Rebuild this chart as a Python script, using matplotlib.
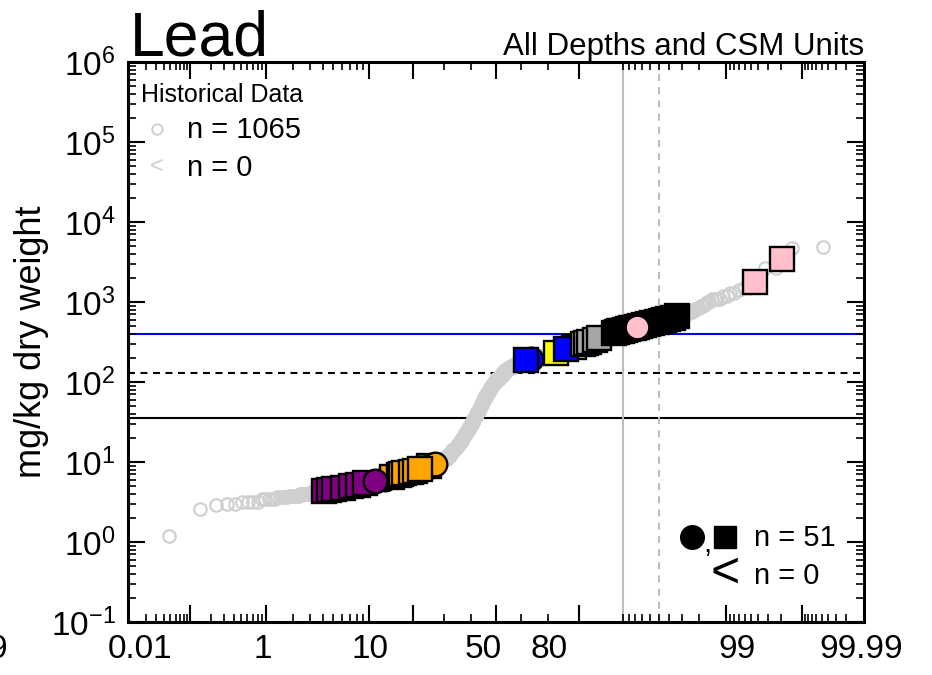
import numpy as np
import matplotlib
matplotlib.use("Agg")
import matplotlib.pyplot as plt
from matplotlib.ticker import FixedLocator, LogLocator, NullFormatter, LogFormatterSciNotation
from statistics import NormalDist

plt.rcParams['font.family'] = ['Liberation Sans', 'DejaVu Sans']
plt.rcParams['mathtext.fontset'] = 'custom'
plt.rcParams['mathtext.rm'] = 'Liberation Sans'
plt.rcParams['mathtext.it'] = 'Liberation Sans:italic'
plt.rcParams['mathtext.bf'] = 'Liberation Sans:bold'
plt.rcParams['lines.scale_dashes'] = False

# ---------------------------------------------------------------------------
# Historical record: reported lead values (mg/kg) and number of samples at each
hist_values = [1.2, 2.6, 2.9, 3.0,
               3.2, 3.4, 3.6, 3.8, 4.0, 4.2, 4.4, 4.6, 4.8, 5.0, 5.2, 5.4, 5.6, 5.8,
               6.0, 6.2, 6.4, 6.6, 6.8, 7.0, 7.2, 7.4, 7.6, 7.8, 8.0, 8.2, 8.4, 8.6,
               8.8, 9.0, 9.2, 9.4, 9.6, 9.8,
               10, 11, 12, 13, 14, 15, 16, 17, 18, 19, 20, 21, 22, 23, 24, 25, 26,
               27, 28, 29, 30,
               32, 34, 36, 38, 40, 42, 44, 46, 48, 50, 52, 54, 56, 58, 60,
               65, 70, 75, 80, 85, 90, 95, 100,
               110, 120, 130, 140, 150, 160, 170, 180, 190, 200, 210, 220, 230, 240,
               250, 260, 270, 280, 290, 300,
               320, 340, 360, 380, 400, 420, 440, 460, 480, 500, 520, 540, 560, 580, 600,
               650, 700, 750, 800, 850, 900, 950, 1000,
               1100, 1200, 1300, 1400, 1500,
               1860, 2630, 2690, 4730, 4900]
hist_counts = [1, 1, 1, 2,
               4, 5, 5, 6, 7, 8, 8, 12, 11, 11, 11, 10, 10, 10,
               11, 11, 10, 10, 10, 9, 9, 9, 11, 11, 10, 11, 9, 8,
               7, 7, 7, 7, 6, 4,
               13, 16, 12, 9, 9, 8, 6, 6, 5, 6, 5, 4, 4, 4, 4, 3, 4,
               3, 3, 3, 3,
               6, 5, 4, 3, 4, 4, 3, 3, 3, 3, 3, 3, 3, 2, 3,
               9, 5, 6, 5, 5, 5, 8, 6,
               17, 11, 11, 12, 16, 15, 14, 25, 28, 28, 27, 26, 22, 14,
               13, 13, 12, 12, 11, 11,
               24, 13, 13, 11, 11, 11, 10, 11, 10, 9, 7, 7, 7, 5, 4,
               11, 4, 3, 2, 2, 2, 1, 2,
               4, 2, 2, 1, 2,
               1, 1, 1, 1, 1]
hist_censored = []          # no non-detects in the historical record

# Current samples (mg/kg) by unit colour and marker shape
green_sq = [8.8]
green_o = [9.0]
orange_o = [6.2, 9.4]
orange_sq = [6.5, 6.9, 7.0, 7.2, 7.6, 7.8, 8.1]
purple_sq = [4.4, 4.5, 4.6, 4.8, 5.0, 5.2, 5.4]
purple_o = [5.8]
yellow_sq = [232, 275]
blue_o = [195]
blue_sq = [188, 255]
gray_sq = [300, 310, 320, 335, 350]
black_sq = [410, 420, 430, 440, 450, 460, 470, 480, 490, 500, 515, 530, 545,
            560, 575, 590, 610, 635, 660]
pink_sq = [1800, 3400]
pink_o = [490]
current_censored = []

# Screening levels (mg/kg) and percentile reference lines
screen_blue = 400
screen_dashed = 128
screen_solid = 35.8
pct_solid = 90
pct_dashed = 95

# Probability-axis ticks and labels
x_major = [0.1, 1, 10, 20, 50, 80, 99, 99.9]
x_minor = ([0.02, 0.03, 0.04, 0.05, 0.06, 0.07, 0.08, 0.09,
            0.2, 0.3, 0.4, 0.5, 0.6, 0.7, 0.8, 0.9,
            2, 3, 4, 5, 6, 7, 8, 9, 30, 40, 60, 70, 90,
            91, 92, 93, 94, 95, 96, 97, 98,
            99.1, 99.2, 99.3, 99.4, 99.5, 99.6, 99.7, 99.8,
            99.91, 99.92, 99.93, 99.94, 99.95, 99.96, 99.97, 99.98])
x_labels = ["0.01", "1", "10", "50", "80", "99", "99.99"]
x_label_px = [140, 263, 370, 483, 549, 737, 861]

# ---------------------------------------------------------------------------
_nd = NormalDist()
_ppf = np.vectorize(_nd.inv_cdf, otypes=[float])
_cdf = np.vectorize(_nd.cdf, otypes=[float])


def prob_forward(pct):
    p = np.asarray(pct, dtype=float) / 100.0
    p = np.where(np.isfinite(p), p, 0.5)
    p = np.clip(p, 1e-12, 1 - 1e-12)
    return _ppf(p)


def prob_inverse(z):
    z = np.asarray(z, dtype=float)
    z = np.where(np.isfinite(z), z, 0.0)
    return 100.0 * _cdf(z)


W, H = 932, 675
fig = plt.figure(figsize=(W / 100, H / 100), dpi=100)
L, R, T, B = 128, 864, 62, 622
ax = fig.add_axes([L / W, 1 - B / H, (R - L) / W, (B - T) / H])
ax.set_xscale('function', functions=(prob_forward, prob_inverse))
ax.set_yscale('log')
ax.set_xlim(0.01, 99.99)
ax.set_ylim(1e-1, 1e6)

# historical data at Hazen plotting positions
hv = np.asarray(hist_values, dtype=float)
hc = np.asarray(hist_counts)
hist_all = np.repeat(hv, hc)
n_hist = hist_all.size
hist_pct = 100.0 * (np.arange(1, n_hist + 1) - 0.5) / n_hist

# position of each current sample within the historical distribution
cum = np.cumsum(hc)
mid_rank = cum - (hc - 1) / 2.0
mid_q = prob_forward(100.0 * (mid_rank - 0.5) / n_hist)


def pct_in_history(vals):
    q = np.interp(np.log10(vals), np.log10(hv), mid_q)
    return prob_inverse(q)


# reference lines
ax.axhline(screen_blue, color='#0000ff', lw=1.5, zorder=1)
ax.axhline(screen_dashed, color='black', lw=1.5, ls=(0, (5, 4)), zorder=1)
ax.axhline(screen_solid, color='black', lw=1.5, zorder=1)
ax.axvline(pct_solid, color='#bebebe', lw=1.5, zorder=1)
ax.axvline(pct_dashed, color='#bebebe', lw=1.5, ls=(0, (5, 4.5)), zorder=1)

ax.plot(hist_pct, hist_all, ls='none', marker='o', ms=9.0, mfc='none',
        mec='#cfcfcf', mew=1.5, zorder=2)

series = [
    (green_sq, 's', '#008000'), (green_o, 'o', '#008000'),
    (orange_o, 'o', '#ffa500'), (orange_sq, 's', '#ffa500'),
    (purple_sq, 's', '#800080'), (purple_o, 'o', '#800080'),
    (yellow_sq, 's', '#ffff00'),
    (blue_o, 'o', '#0000ff'), (blue_sq, 's', '#0000ff'),
    (gray_sq, 's', '#a6a6a6'),
    (black_sq, 's', '#000000'),
    (pink_sq, 's', '#ffc0cb'), (pink_o, 'o', '#ffc0cb'),
]
n_current = 0
z = 3
for vals, mk, col in series:
    v = np.asarray(vals, dtype=float)
    n_current += v.size
    xs = pct_in_history(v)
    for xi, yi in zip(xs, v):
        ax.plot([xi], [yi], ls='none', marker=mk, ms=17.5 if mk == 's' else 17,
                mfc=col, mec='black', mew=1.7, zorder=z)
        z += 0.01

# axes styling
for s in ax.spines.values():
    s.set_linewidth(2.2)
ax.xaxis.set_major_locator(FixedLocator(x_major))
ax.xaxis.set_minor_locator(FixedLocator(x_minor))
ax.xaxis.set_major_formatter(NullFormatter())
ax.xaxis.set_minor_formatter(NullFormatter())
ax.yaxis.set_major_locator(LogLocator(base=10, numticks=20))
ax.yaxis.set_minor_locator(LogLocator(base=10, subs=np.arange(2, 10), numticks=20))
ax.yaxis.set_minor_formatter(NullFormatter())
ax.yaxis.set_major_formatter(LogFormatterSciNotation())
ax.tick_params(which='both', direction='in', top=True, right=True)
ax.tick_params(which='major', length=12.5, width=1.5, labelsize=24, pad=9)
ax.tick_params(which='minor', length=5.5, width=1.2)

# probability labels
for lab, px in zip(x_labels, x_label_px):
    fig.text(px / W, 1 - 650 / H, lab, ha='center', va='center', fontsize=24)
fig.text(8 / W, 1 - 650 / H, "99.99", ha='right', va='center', fontsize=24)

fig.text(32 / W, 1 - 342 / H, "mg/kg dry weight", rotation=90,
         ha='center', va='center', fontsize=26)

# titles
fig.text(130 / W, 1 - 55 / H, "Lead", ha='left', va='baseline', fontsize=45)
fig.text(864 / W, 1 - 55 / H, "All Depths and CSM Units", ha='right',
         va='baseline', fontsize=22.5)

# historical legend
fig.text(141 / W, 1 - 95 / H, "Historical Data", ha='left', va='center', fontsize=18)
fig.add_artist(plt.Line2D([157 / W], [1 - 129 / H], marker='o', ms=7.5, mfc='none',
                          mec='#cfcfcf', mew=1.4, transform=fig.transFigure))
fig.text(187 / W, 1 - 130 / H, f"n = {n_hist}", ha='left', va='center', fontsize=21)
fig.text(157 / W, 1 - 167 / H, "<", ha='center', va='center', fontsize=17,
         color='#cfcfcf')
fig.text(187 / W, 1 - 168 / H, f"n = {len(hist_censored)}", ha='left',
         va='center', fontsize=21)

# current-data legend
fig.add_artist(plt.Line2D([692 / W], [1 - 537 / H], marker='o', ms=17, mfc='black',
                          mec='black', transform=fig.transFigure))
fig.text(707 / W, 1 - 544 / H, ",", ha='center', va='center', fontsize=21)
fig.add_artist(plt.Line2D([725 / W], [1 - 537 / H], marker='s', ms=16.5, mfc='black',
                          mec='black', transform=fig.transFigure))
fig.text(754 / W, 1 - 538 / H, f"n = {n_current}", ha='left', va='center', fontsize=21)
fig.text(725 / W, 1 - 574 / H, "<", ha='center', va='center', fontsize=36)
fig.text(754 / W, 1 - 576 / H, f"n = {len(current_censored)}", ha='left',
         va='center', fontsize=21)

fig.savefig("out.png", dpi=100)
